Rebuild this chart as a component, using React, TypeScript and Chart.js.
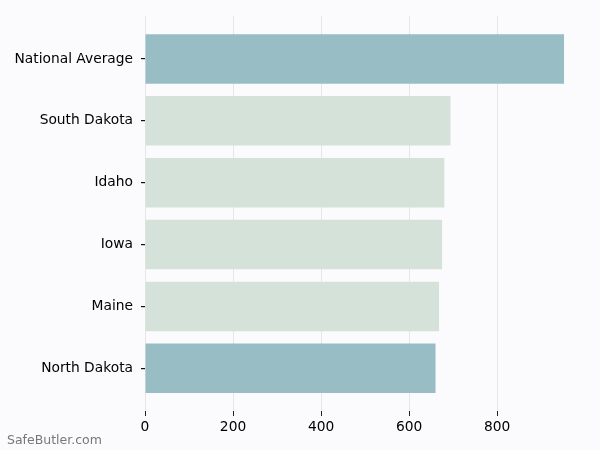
import React, { useEffect, useRef } from "react";
import { Chart, registerables } from "chart.js";

Chart.register(...registerables);

const categories = [
  "National Average",
  "South Dakota",
  "Idaho",
  "Iowa",
  "Maine",
  "North Dakota",
];
const premiums = [952, 694, 680, 675, 668, 660];
const barColors = ["#98bdc5", "#d5e2d9", "#d5e2d9", "#d5e2d9", "#d5e2d9", "#98bdc5"];
const xTicks = [0, 200, 400, 600, 800];

const BG = "#fbfbfd";
const FONT = "'DejaVu Sans', sans-serif";

const App: React.FC = () => {
  const canvasRef = useRef<HTMLCanvasElement>(null);
  const chartRef = useRef<Chart | null>(null);

  useEffect(() => {
    document.body.style.margin = "0";
    document.body.style.background = BG;
    if (!canvasRef.current) return;

    if (chartRef.current) {
      chartRef.current.destroy();
      chartRef.current = null;
    }

    chartRef.current = new Chart(canvasRef.current, {
      type: "bar",
      data: {
        datasets: [
          {
            data: premiums.map((v, i) => ({ x: v, y: i })),
            backgroundColor: barColors,
            borderWidth: 0,
            barPercentage: 0.8,
            categoryPercentage: 1,
          },
        ],
      },
      options: {
        indexAxis: "y",
        animation: false,
        responsive: false,
        layout: { padding: { top: 15, right: 15, left: 0, bottom: 0 } },
        plugins: {
          legend: { display: false },
          tooltip: { enabled: false },
        },
        scales: {
          x: {
            type: "linear",
            min: 0,
            max: 999.6,
            afterBuildTicks: (scale: any) => {
              scale.ticks = xTicks.map((v) => ({ value: v }));
            },
            afterFit: (scale: any) => {
              scale.height = 39;
            },
            border: { display: false },
            grid: {
              color: "#e6e6e8",
              lineWidth: 1,
              tickColor: "#222",
              tickLength: 5,
              drawTicks: true,
            },
            ticks: {
              color: "#000",
              padding: 3,
              font: { family: FONT, size: 13.8 },
            },
          },
          y: {
            type: "linear",
            reverse: true,
            offset: false,
            min: -0.69,
            max: 5.69,
            afterBuildTicks: (scale: any) => {
              scale.ticks = categories.map((_, i) => ({ value: i }));
            },
            afterFit: (scale: any) => {
              scale.width = 145;
            },
            border: { display: false },
            grid: {
              offset: false,
              drawOnChartArea: false,
              drawTicks: true,
              tickColor: "#111",
              tickLength: 4,
              lineWidth: 1.2,
            },
            ticks: {
              color: "#000",
              padding: 8,
              font: { family: FONT, size: 13.8 },
              callback: (value: any) => categories[Number(value)] ?? "",
            },
          },
        },
      },
    });

    return () => {
      if (chartRef.current) {
        chartRef.current.destroy();
        chartRef.current = null;
      }
    };
  }, []);

  return (
    <div style={{ position: "relative", width: 600, height: 450, background: BG }}>
      <canvas ref={canvasRef} width={600} height={450}></canvas>
      <div
        style={{
          position: "absolute",
          left: 7,
          top: 432,
          fontFamily: FONT,
          fontSize: 12.5,
          color: "#777",
          lineHeight: "16px",
        }}
      >
        SafeButler.com
      </div>
    </div>
  );
};

export default App;
